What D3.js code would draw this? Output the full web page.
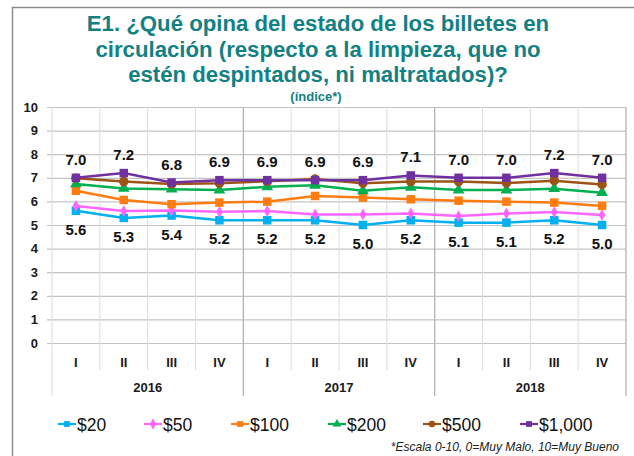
<!DOCTYPE html>
<html>
<head>
<meta charset="utf-8">
<script src="https://cdn.jsdelivr.net/npm/d3@7"></script>
<style>
  html, body { margin: 0; padding: 0; background: #fff; }
  svg { display: block; font-family: "Liberation Sans", Arial, sans-serif; }
</style>
</head>
<body>
<svg id="chart" width="634" height="456"></svg>
<script>
// Quarters and years along the category axis
const quarters = ["I", "II", "III", "IV", "I", "II", "III", "IV", "I", "II", "III", "IV"];
const years = ["2016", "2017", "2018"];
const yTicks = [0, 1, 2, 3, 4, 5, 6, 7, 8, 9, 10];

// Index per denomination (scale 0-10)
const v20   = [5.6, 5.3, 5.4, 5.2, 5.2, 5.2, 5.0, 5.2, 5.1, 5.1, 5.2, 5.0];
const v50   = [5.81, 5.59, 5.61, 5.56, 5.59, 5.45, 5.45, 5.49, 5.38, 5.49, 5.55, 5.42];
const v100  = [6.45, 6.06, 5.88, 5.95, 5.99, 6.23, 6.16, 6.09, 6.03, 5.99, 5.95, 5.81];
const v200  = [6.74, 6.55, 6.52, 6.48, 6.62, 6.68, 6.45, 6.6, 6.48, 6.48, 6.54, 6.37];
const v500  = [6.98, 6.84, 6.74, 6.77, 6.85, 6.95, 6.77, 6.84, 6.84, 6.78, 6.88, 6.72];
const v1000 = [7.0, 7.2, 6.8, 6.9, 6.9, 6.9, 6.9, 7.1, 7.0, 7.0, 7.2, 7.0];

const seriesNames = ["$20", "$50", "$100", "$200", "$500", "$1,000"];
const seriesValues = [v20, v50, v100, v200, v500, v1000];
const seriesColors = ["#00b0f0", "#ff66ff", "#ff7c10", "#00b050", "#9c5416", "#7030a0"];
const seriesSymbols = [d3.symbolSquare, d3.symbolDiamond, d3.symbolSquare, d3.symbolTriangle, d3.symbolCircle, d3.symbolSquare];
const markerSizes = [72, 40, 72, 60, 70, 72];

const svg = d3.select("#chart");

// Outer frame
svg.append("path")
  .attr("d", "M12.5,456 L12.5,7.5 L634,7.5")
  .attr("fill", "none").attr("stroke", "#8c8c8c").attr("stroke-width", 1.5);

// Title
const titleLines = [
  "E1. ¿Qué opina del estado de los billetes en",
  "circulación (respecto a la limpieza, que no",
  "estén despintados, ni maltratados)?"
];
const title = svg.append("g").attr("fill", "#138183").attr("font-weight", "bold").attr("text-anchor", "middle");
title.selectAll("text").data(titleLines).join("text")
  .attr("x", 318).attr("y", (d, i) => 31 + i * 25.5)
  .attr("font-size", 22.2).text(d => d);
title.append("text").attr("x", 316).attr("y", 101).attr("font-size", 13).text("(índice*)");

const plotLeft = 52, plotRight = 626, plotTop = 107, plotBottom = 343;

const x = d3.scaleBand().domain(d3.range(quarters.length)).range([plotLeft, plotRight]).paddingInner(0).paddingOuter(0);
const y = d3.scaleLinear().domain([0, 10]).range([plotBottom, plotTop]);

// Horizontal gridlines and value axis
const yAxis = d3.axisLeft(y).tickValues(yTicks).tickSize(-(plotRight - 47)).tickPadding(9);
const gy = svg.append("g").attr("transform", `translate(47,0)`).call(yAxis);
gy.select(".domain").remove();
gy.selectAll(".tick line").attr("stroke", "#c4c4c4").attr("stroke-width", 1.2);
gy.selectAll(".tick text").attr("font-size", 13).attr("font-weight", "bold").attr("fill", "#1a1a1a")
  .attr("font-family", "Liberation Sans, Arial, sans-serif");

// Vertical separators between quarters, longer at year boundaries
const bounds = d3.range(quarters.length + 1);
svg.append("g").selectAll("line").data(bounds).join("line")
  .attr("x1", i => i === quarters.length ? plotRight : x(i))
  .attr("x2", i => i === quarters.length ? plotRight : x(i))
  .attr("y1", plotTop)
  .attr("y2", i => (i % 4 === 0) ? 396 : 370)
  .attr("stroke", i => (i % 4 === 0 && i > 0) ? "#b4b4b4" : "#dcdcdc")
  .attr("stroke-width", i => (i % 4 === 0 && i > 0) ? 1.3 : 1);

// Quarter labels
svg.append("g").selectAll("text").data(quarters).join("text")
  .attr("x", (d, i) => x(i) + x.bandwidth() / 2).attr("y", 367)
  .attr("text-anchor", "middle").attr("font-size", 13).attr("font-weight", "bold").attr("fill", "#1a1a1a")
  .text(d => d);

// Year labels
svg.append("g").selectAll("text").data(years).join("text")
  .attr("x", (d, i) => x(i * 4) + x.bandwidth() * 2).attr("y", 392)
  .attr("text-anchor", "middle").attr("font-size", 13).attr("font-weight", "bold").attr("fill", "#1a1a1a")
  .text(d => d);

// Series lines and markers
const line = d3.line().x((d, i) => x(i) + x.bandwidth() / 2).y(d => y(d));
seriesValues.forEach((vals, s) => {
  const g = svg.append("g");
  g.append("path").datum(vals).attr("d", line)
    .attr("fill", "none").attr("stroke", seriesColors[s]).attr("stroke-width", 2.5);
  g.selectAll("path.m").data(vals).join("path").attr("class", "m")
    .attr("transform", (d, i) => `translate(${x(i) + x.bandwidth() / 2},${y(d)})`)
    .attr("d", d3.symbol(seriesSymbols[s], markerSizes[s]))
    .attr("fill", seriesColors[s]);
});

// Value labels: $1,000 above, $20 below
svg.append("g").selectAll("text").data(v1000).join("text")
  .attr("x", (d, i) => x(i) + x.bandwidth() / 2).attr("y", d => y(d) - 13)
  .attr("text-anchor", "middle").attr("font-size", 15).attr("font-weight", "bold").attr("fill", "#111")
  .text(d => d.toFixed(1));
svg.append("g").selectAll("text").data(v20).join("text")
  .attr("x", (d, i) => x(i) + x.bandwidth() / 2).attr("y", d => y(d) + 24)
  .attr("text-anchor", "middle").attr("font-size", 15).attr("font-weight", "bold").attr("fill", "#111")
  .text(d => d.toFixed(1));

// Legend
const legendXs = [58, 144, 231, 328, 423, 520];
const lg = svg.append("g");
seriesNames.forEach((name, s) => {
  const lx = legendXs[s], ly = 424;
  lg.append("line").attr("x1", lx).attr("x2", lx + 18).attr("y1", ly).attr("y2", ly)
    .attr("stroke", seriesColors[s]).attr("stroke-width", 2.2);
  lg.append("path").attr("transform", `translate(${lx + 9},${ly})`)
    .attr("d", d3.symbol(seriesSymbols[s], 34)).attr("fill", seriesColors[s]);
  lg.append("text").attr("x", lx + 19).attr("y", ly + 6.5)
    .attr("font-size", 17.5).attr("fill", "#111").text(name);
});

// Footnote
svg.append("text").attr("x", 619).attr("y", 451).attr("text-anchor", "end")
  .attr("font-size", 12).attr("font-style", "italic").attr("fill", "#222")
  .text("*Escala 0-10, 0=Muy Malo, 10=Muy Bueno");
</script>
</body>
</html>
